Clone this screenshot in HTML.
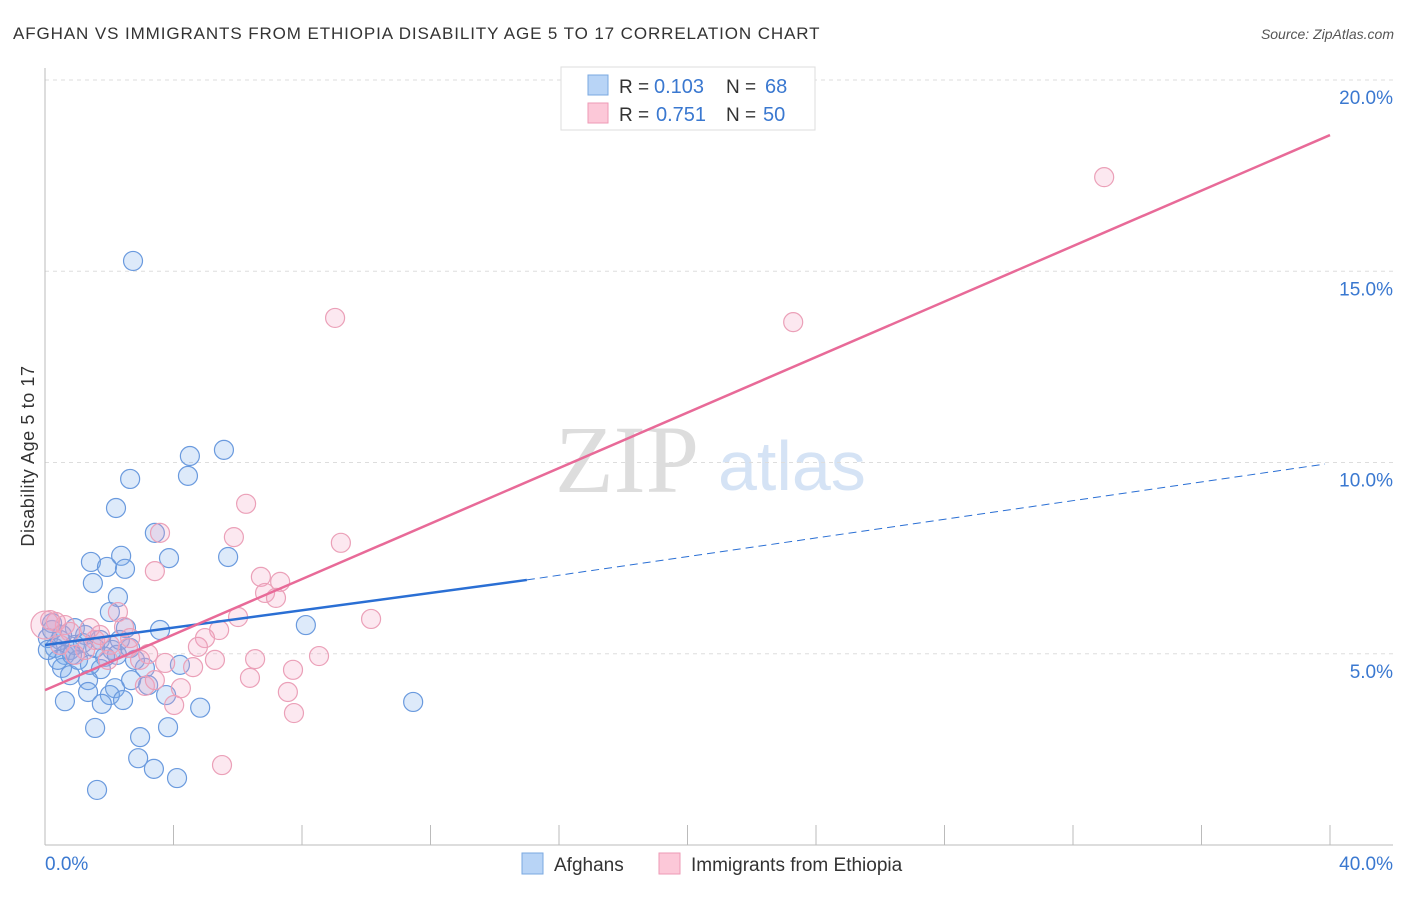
<!DOCTYPE html>
<html><head><meta charset="utf-8"><style>
body{margin:0;background:#fff;font-family:"Liberation Sans",sans-serif}
svg text{font-family:"Liberation Sans",sans-serif}
</style></head><body>
<svg id="c" width="1406" height="892">
<text x="13" y="39" font-size="17" letter-spacing="0.9" fill="#333">AFGHAN VS IMMIGRANTS FROM ETHIOPIA DISABILITY AGE 5 TO 17 CORRELATION CHART</text>
<text x="1394" y="39" font-size="14" fill="#555" font-style="italic" text-anchor="end">Source: ZipAtlas.com</text>
<text x="555" y="492" font-size="96" fill="#ddd" style="font-family:'Liberation Serif',serif">ZIP</text>
<text x="718" y="490" font-size="70" fill="#d5e3f5">atlas</text>
<text transform="translate(34,456) rotate(-90)" font-size="18" letter-spacing="0.6" fill="#333" text-anchor="middle">Disability Age 5 to 17</text>
<g id="grid"></g><g id="pts"></g><g id="lines"></g>
<g>
<rect x="561" y="67" width="254" height="63" fill="#fff" stroke="#ddd"/>
<rect x="588" y="75" width="20" height="20" fill="#b8d4f6" stroke="#7aa8e0"/>
<rect x="588" y="103" width="20" height="20" fill="#fcc8d8" stroke="#ee9ab6"/>
<text x="619" y="93" font-size="19" fill="#333">R =</text><text x="654" y="93" font-size="20" fill="#3a78d0">0.103</text>
<text x="726" y="93" font-size="19" fill="#333">N =</text><text x="765" y="93" font-size="20" fill="#3a78d0">68</text>
<text x="619" y="121" font-size="19" fill="#333">R =</text><text x="656" y="121" font-size="20" fill="#3a78d0">0.751</text>
<text x="726" y="121" font-size="19" fill="#333">N =</text><text x="763" y="121" font-size="20" fill="#3a78d0">50</text>
</g>
<g>
<rect x="522" y="853" width="21" height="21" fill="#b8d4f6" stroke="#7aa8e0"/>
<text x="554" y="871" font-size="19" fill="#333">Afghans</text>
<rect x="659" y="853" width="21" height="21" fill="#fcc8d8" stroke="#ee9ab6"/>
<text x="691" y="871" font-size="19" fill="#333">Immigrants from Ethiopia</text>
</g>
</svg>
<script>
const yTicks=[5,10,15,20];
const yTickLabels=["5.0%","10.0%","15.0%","20.0%"];
const xTickLabels=["0.0%","40.0%"];
const afghanX=[2.74,5.57,4.51,4.45,2.65,2.21,3.42,3.86,5.70,2.37,1.43,1.93,2.49,1.49,2.27,2.02,8.12,2.52,3.58,0.93,0.22,0.09,0.47,1.25,1.71,1.18,2.09,2.65,0.78,0.31,0.62,1.87,2.24,4.20,3.11,1.74,0.53,0.78,1.34,2.68,3.21,2.18,1.34,2.02,3.77,2.43,1.77,0.62,4.83,11.46,1.56,2.96,3.83,2.90,3.39,4.11,1.62,0.22,0.93,1.56,0.40,1.03,0.09,2.33,2.80,1.40,0.84,0.53];
const afghanY=[15.27,10.33,10.17,9.65,9.57,8.81,8.16,7.50,7.53,7.56,7.40,7.27,7.22,6.85,6.48,6.09,5.75,5.67,5.62,5.67,5.80,5.41,5.36,5.49,5.36,5.28,5.10,5.15,5.10,5.15,4.97,4.92,4.97,4.71,4.63,4.60,4.63,4.44,4.31,4.31,4.18,4.10,4.00,3.92,3.92,3.79,3.69,3.76,3.59,3.74,3.06,2.82,3.08,2.27,1.99,1.75,1.44,5.62,5.23,5.15,4.84,4.84,5.10,5.36,4.84,4.71,4.97,5.49];
const ethX=[32.97,9.03,23.29,6.26,3.58,5.88,9.21,3.42,6.72,7.32,6.85,7.19,10.15,6.01,2.27,5.42,4.98,2.46,0.34,0.62,0.16,0.78,1.56,2.02,3.21,4.76,5.29,6.54,8.53,7.72,3.74,4.61,4.23,3.11,6.38,7.56,4.02,7.75,5.51,1.25,1.71,2.96,0.47,1.96,2.58,0.93,1.40,0.00,3.42,2.65];
const ethY=[17.46,13.78,13.67,8.92,8.16,8.05,7.90,7.16,7.01,6.88,6.59,6.46,5.91,5.96,6.09,5.62,5.41,5.70,5.83,5.75,5.88,5.57,5.36,5.23,4.99,5.18,4.84,4.86,4.94,4.58,4.76,4.65,4.10,4.16,4.37,4.00,3.66,3.45,2.09,5.10,5.49,4.84,5.23,4.84,5.15,4.97,5.67,5.75,4.31,5.41];
const afghanTrend=[[0,5.23],[15,6.93],[40,9.96]];
const ethTrend=[[0,4.05],[40,18.56]];
const NS="http://www.w3.org/2000/svg";
const sx=v=>45+v/40*1285, sy=v=>845-v*38.25;
function mk(t,a,p){const e=document.createElementNS(NS,t);for(const k in a)e.setAttribute(k,a[k]);p.appendChild(e);return e;}
const g=document.getElementById('grid');
yTicks.forEach((t,i)=>{
 const l=mk('line',{x1:45,x2:1393,y1:sy(t),y2:sy(t),stroke:'#ddd','stroke-dasharray':'4,4'},g);
 
 
 const tx=mk('text',{x:1393,y:sy(t)+24,'font-size':19,fill:'#3a78d0','text-anchor':'end'},g);tx.textContent=yTickLabels[i];
 
 
});
let ax=mk('line',{x1:45,x2:45,y1:68,y2:845,stroke:'#bbb'},g);


ax=mk('line',{x1:45,x2:1393,y1:845,y2:845,stroke:'#bbb'},g);


for(let i=0;i<=10;i++){const t=mk('line',{x1:sx(i*4),x2:sx(i*4),y1:825,y2:845,stroke:'#bbb'},g);
 
 }
[[0,'start',45],[40,'end',1393]].forEach((d,i)=>{const t=mk('text',{x:d[2],y:870,'font-size':19,fill:'#3a78d0','text-anchor':d[1]},g);t.textContent=xTickLabels[i];
 
 });
const p=document.getElementById('pts');
function pts(X,Y,f,s,n){X.forEach((x,i)=>{const c=mk('circle',{cx:sx(x),cy:sy(Y[i]),r:(x===0?14:9.5),fill:f,stroke:s,'stroke-width':1.2},p);
 
 });}
pts(afghanX,afghanY,'rgba(120,170,235,0.25)','#6a9ade','afghan-point');
pts(ethX,ethY,'rgba(245,165,195,0.25)','#eba0b8','ethiopia-point');
const L=document.getElementById('lines');
let ln=mk('line',{x1:sx(afghanTrend[0][0]),y1:sy(afghanTrend[0][1]),x2:sx(afghanTrend[1][0]),y2:sy(afghanTrend[1][1]),stroke:'#2a6fd4','stroke-width':2.5},L);


ln=mk('line',{x1:sx(afghanTrend[1][0]),y1:sy(afghanTrend[1][1]),x2:sx(afghanTrend[2][0])-5,y2:sy(afghanTrend[2][1]),stroke:'#2a6fd4','stroke-width':1,'stroke-dasharray':'8,5'},L);


ln=mk('line',{x1:sx(ethTrend[0][0]),y1:sy(ethTrend[0][1]),x2:sx(ethTrend[1][0]),y2:sy(ethTrend[1][1]),stroke:'#e86a98','stroke-width':2.5},L);


</script>
</body></html>
